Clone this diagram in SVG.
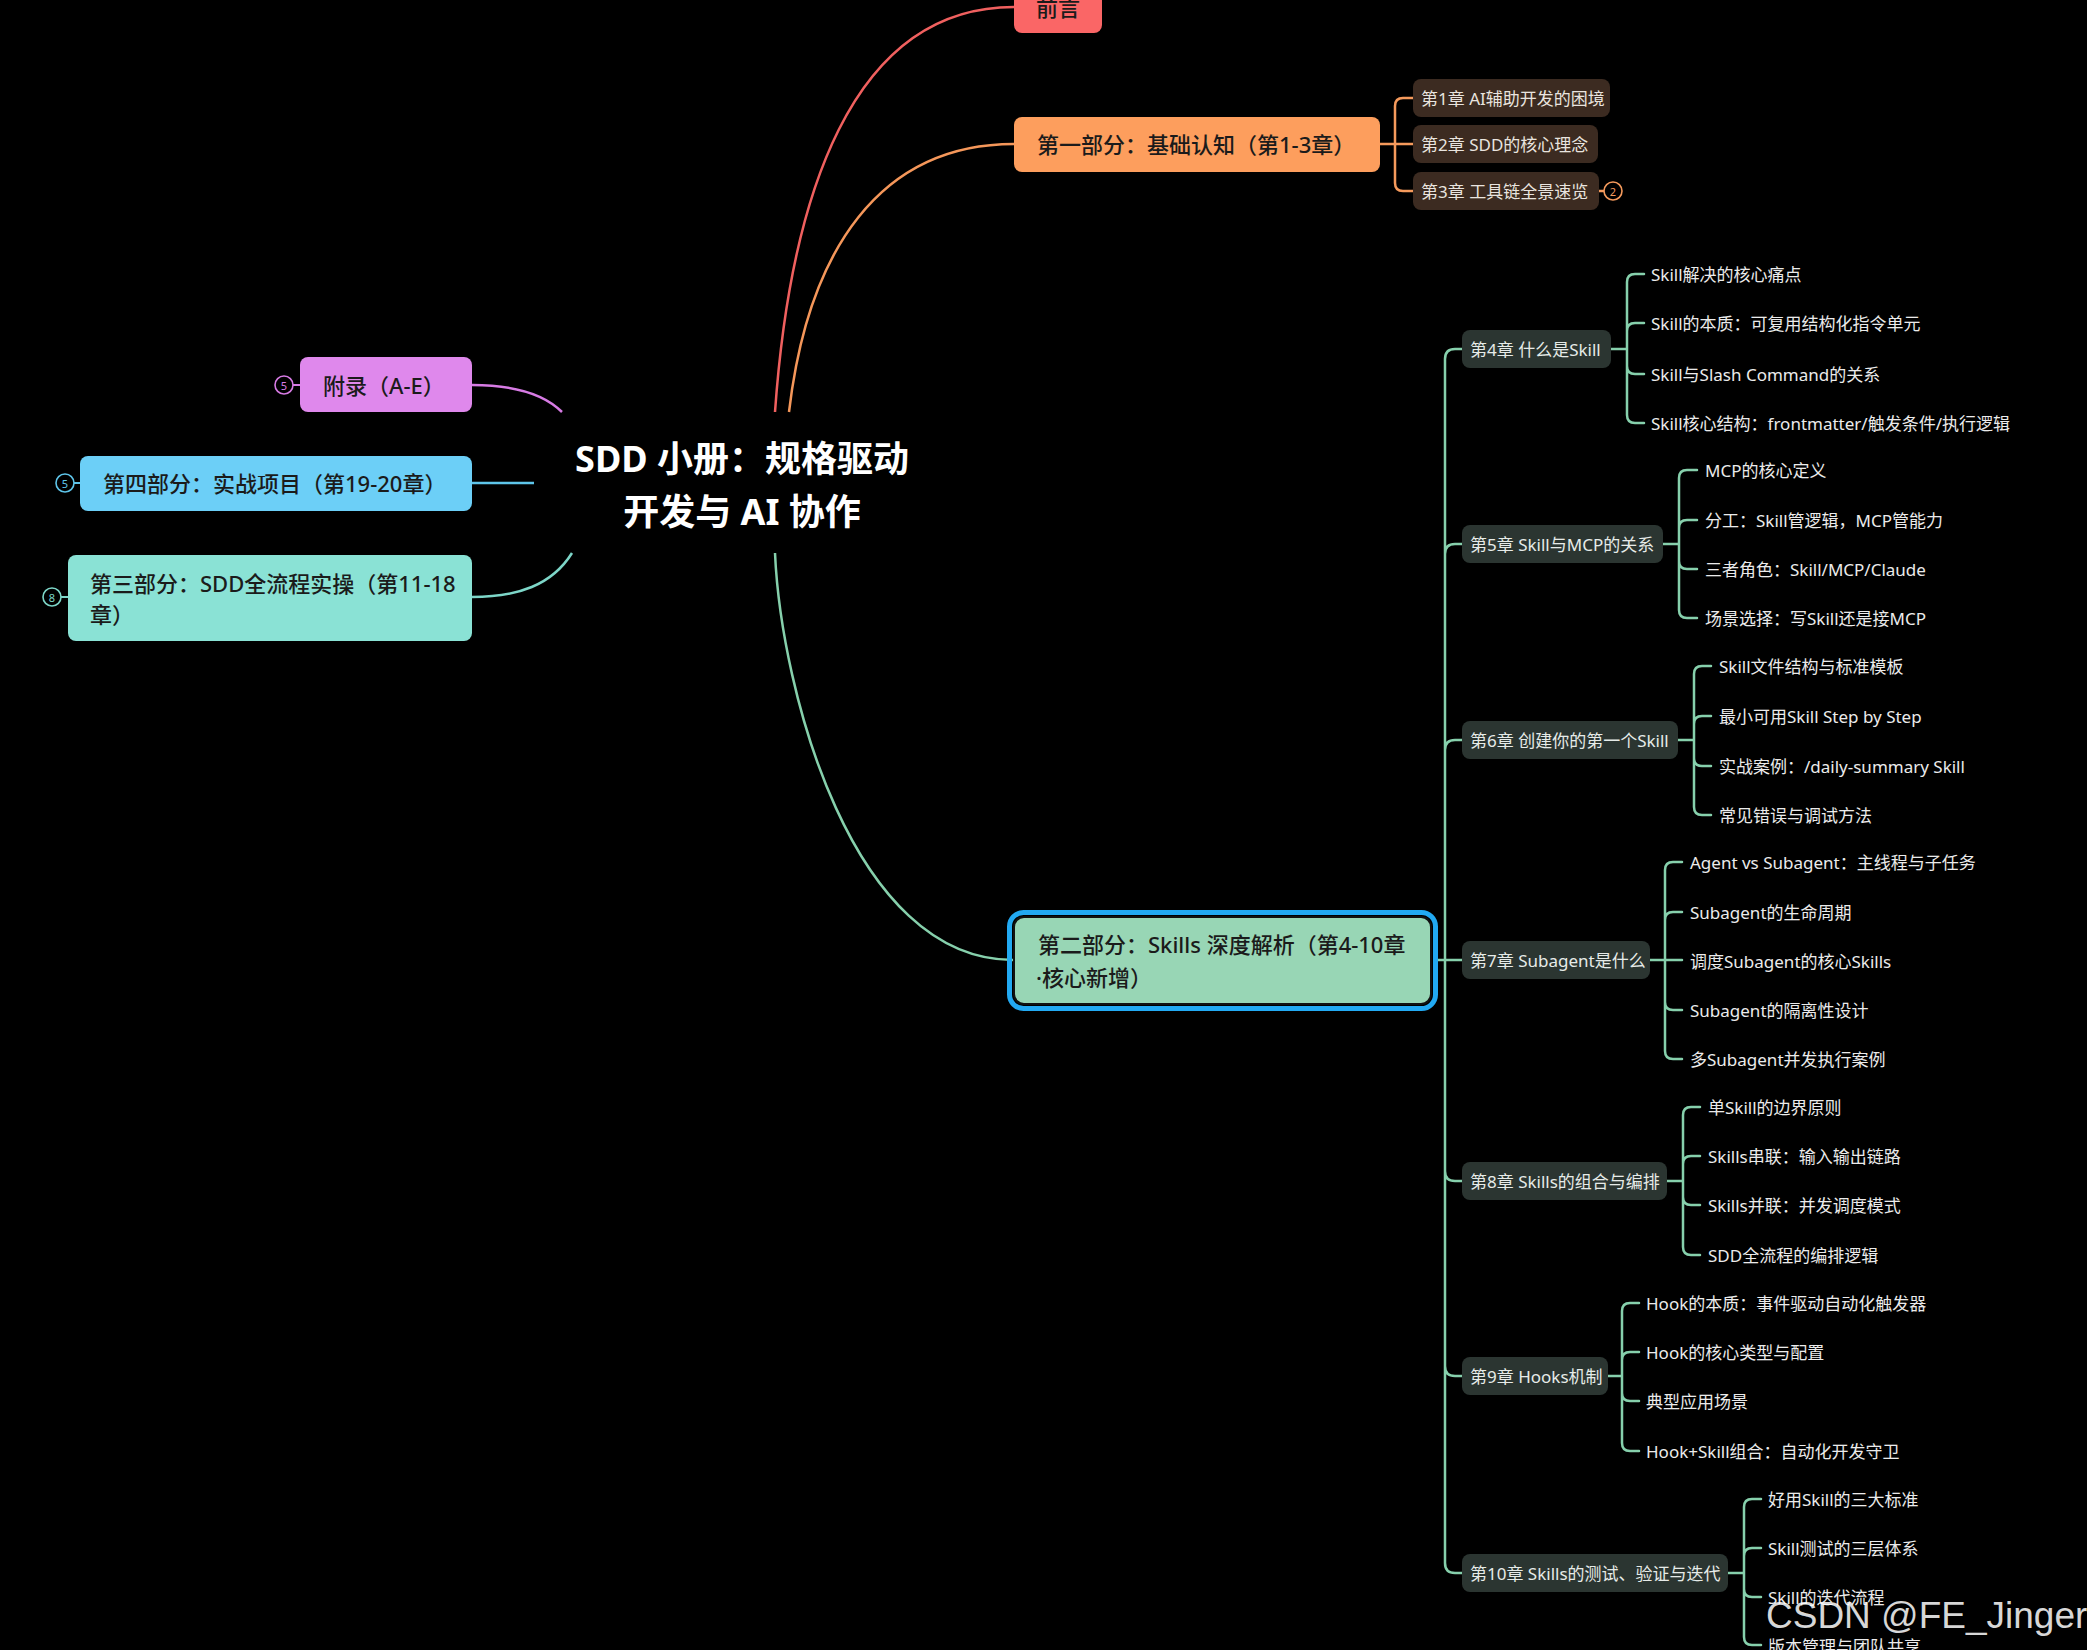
<svg xmlns="http://www.w3.org/2000/svg" width="2087" height="1650" viewBox="0 0 2087 1650">
<style>
text{font-family:"Noto Sans","Noto Sans CJK SC",sans-serif;dominant-baseline:central}
.part{font-size:22px;font-weight:500;fill:#1b1b1b}
.ch{font-size:17px;fill:#e9e4df}
.chg{font-size:17px;fill:#e6ebe8}
.leaf{font-size:17px;fill:#ebebeb}
.chbox{fill:#2b3531}
.chbox1{fill:#3c2b21}
.g{fill:none;stroke:#86d0ac;stroke-width:2.5;stroke-linecap:round}
.o{fill:none;stroke:#f59a5c;stroke-width:2.5;stroke-linecap:round}
.badge{fill:#000;stroke-width:1.6}
.bt{font-size:11px;text-anchor:middle}
</style>
<rect width="2087" height="1650" fill="#000"/>

<g id="connectors">
  <path d="M775,412 C790,200 850,7 1014,7" fill="none" stroke="#f0605f" stroke-width="2.5"/>
  <path d="M789,412 C808,250 880,144 1014,144" fill="none" stroke="#f5975a" stroke-width="2.5"/>
  <path d="M775,553 C781,690 852,960 1013,960" fill="none" stroke="#86d0ac" stroke-width="2.5"/>
  <path d="M472,385 C515,385 545,395 562,412" fill="none" stroke="#d77be4" stroke-width="2.5"/>
  <path d="M472,483 H534" fill="none" stroke="#5ec5ea" stroke-width="2.5"/>
  <path d="M472,597 C518,597 552,585 572,553" fill="none" stroke="#7dd6c8" stroke-width="2.5"/>
  <path d="M276,385 H300" stroke="#d77be4" stroke-width="2"/>
  <path d="M74,483 H80" stroke="#5ec5ea" stroke-width="2"/>
  <path d="M61,597 H68" stroke="#7dd6c8" stroke-width="2"/>
  <path class="o" d="M1380,144 H1413 M1413,98 H1403 Q1395,98 1395,106 V183 Q1395,191 1403,191 H1413 M1598,191 H1604"/>
  <path class="g" d="M1462,349 H1455 Q1445,349 1445,359 V1563 Q1445,1573 1455,1573 H1462 M1445,554 Q1445,544 1455,544 H1462 M1445,750 Q1445,740 1455,740 H1462 M1437,960 H1462 M1445,1171 Q1445,1181 1455,1181 H1462 M1445,1366 Q1445,1376 1455,1376 H1462"/>
  <path class="g" d="M1611,349 H1627 M1627,282 V415 M1627,282 Q1627,274 1635,274 H1644 M1627,331 Q1627,323 1635,323 H1644 M1627,366 Q1627,374 1635,374 H1644 M1627,415 Q1627,423 1635,423 H1644"/>
  <path class="g" d="M1663,544 H1679 M1679,478 V610 M1679,478 Q1679,470 1687,470 H1697 M1679,528 Q1679,520 1687,520 H1697 M1679,561 Q1679,569 1687,569 H1697 M1679,610 Q1679,618 1687,618 H1697"/>
  <path class="g" d="M1678,740 H1694 M1694,674 V807 M1694,674 Q1694,666 1702,666 H1711 M1694,724 Q1694,716 1702,716 H1711 M1694,758 Q1694,766 1702,766 H1711 M1694,807 Q1694,815 1702,815 H1711"/>
  <path class="g" d="M1650,960 H1682 M1665,870 V1051 M1665,870 Q1665,862 1673,862 H1682 M1665,920 Q1665,912 1673,912 H1682 M1665,1002 Q1665,1010 1673,1010 H1682 M1665,1051 Q1665,1059 1673,1059 H1682"/>
  <path class="g" d="M1667,1181 H1683 M1683,1115 V1247 M1683,1115 Q1683,1107 1691,1107 H1700 M1683,1164 Q1683,1156 1691,1156 H1700 M1683,1197 Q1683,1205 1691,1205 H1700 M1683,1247 Q1683,1255 1691,1255 H1700"/>
  <path class="g" d="M1608,1376 H1622 M1622,1311 V1443 M1622,1311 Q1622,1303 1630,1303 H1639 M1622,1360 Q1622,1352 1630,1352 H1639 M1622,1393 Q1622,1401 1630,1401 H1639 M1622,1443 Q1622,1451 1630,1451 H1639"/>
  <path class="g" d="M1728,1573 H1744 M1744,1507 V1637 M1744,1507 Q1744,1499 1752,1499 H1761 M1744,1556 Q1744,1548 1752,1548 H1761 M1744,1589 Q1744,1597 1752,1597 H1761 M1744,1637 Q1744,1645 1752,1645 H1761"/>
</g>

<g id="root">
  <text x="742" y="458" text-anchor="middle" font-size="36" font-weight="700" fill="#fff">SDD 小册：规格驱动</text>
  <text x="742" y="511" text-anchor="middle" font-size="36" font-weight="700" fill="#fff">开发与 AI 协作</text>
</g>

<g id="preface">
  <rect x="1014" y="-22" width="88" height="55" rx="8" fill="#fa6666"/>
  <text class="part" x="1058" y="7" text-anchor="middle" font-weight="700">前言</text>
</g>

<g id="part1">
  <rect x="1014" y="117" width="366" height="55" rx="8" fill="#fd9e5d"/>
  <text class="part" x="1037" y="144">第一部分：基础认知（第1-3章）</text>
</g>
<g id="ch1">
  <rect class="chbox1" x="1413" y="79" width="197" height="38" rx="8"/>
  <text class="ch" x="1421" y="98">第1章 AI辅助开发的困境</text>
</g>
<g id="ch2">
  <rect class="chbox1" x="1413" y="125" width="185" height="38" rx="8"/>
  <text class="ch" x="1421" y="144">第2章 SDD的核心理念</text>
</g>
<g id="ch3">
  <rect class="chbox1" x="1413" y="172" width="186" height="38" rx="8"/>
  <text class="ch" x="1421" y="191">第3章 工具链全景速览</text>
  <circle class="badge" cx="1613" cy="191" r="9" stroke="#f59a5c"/>
  <text class="bt" x="1613" y="191" fill="#f59a5c">2</text>
</g>

<g id="appendix">
  <rect x="300" y="357" width="172" height="55" rx="8" fill="#df88ec"/>
  <text class="part" x="323" y="385">附录（A-E）</text>
  <circle class="badge" cx="284" cy="385" r="9" stroke="#d77be4"/>
  <text class="bt" x="284" y="385" fill="#d77be4">5</text>
</g>
<g id="part4">
  <rect x="80" y="456" width="392" height="55" rx="8" fill="#6ccff7"/>
  <text class="part" x="103" y="483">第四部分：实战项目（第19-20章）</text>
  <circle class="badge" cx="65" cy="483" r="9" stroke="#5ec5ea"/>
  <text class="bt" x="65" y="483" fill="#5ec5ea">5</text>
</g>
<g id="part3">
  <rect x="68" y="555" width="404" height="86" rx="8" fill="#8ae2d5"/>
  <text class="part" x="90" y="583">第三部分：SDD全流程实操（第11-18</text>
  <text class="part" x="90" y="614">章）</text>
  <circle class="badge" cx="52" cy="597" r="9" stroke="#7dd6c8"/>
  <text class="bt" x="52" y="597" fill="#7dd6c8">8</text>
</g>

<g id="part2">
  <rect x="1009.5" y="912.5" width="426" height="96" rx="14" fill="none" stroke="#22a9f2" stroke-width="5"/>
  <rect x="1014" y="917" width="417" height="87" rx="10" fill="#98d6b5" stroke="#111" stroke-width="2"/>
  <text class="part" x="1038" y="944">第二部分：Skills 深度解析（第4-10章</text>
  <text class="part" x="1036" y="977">·核心新增）</text>
</g>

<g id="ch4">
  <rect class="chbox" x="1462" y="330" width="149" height="38" rx="8"/>
  <text class="chg" x="1470" y="349">第4章 什么是Skill</text>
  <text class="leaf" x="1651" y="274">Skill解决的核心痛点</text>
  <text class="leaf" x="1651" y="323">Skill的本质：可复用结构化指令单元</text>
  <text class="leaf" x="1651" y="374">Skill与Slash Command的关系</text>
  <text class="leaf" x="1651" y="423">Skill核心结构：frontmatter/触发条件/执行逻辑</text>
</g>
<g id="ch5">
  <rect class="chbox" x="1462" y="525" width="201" height="38" rx="8"/>
  <text class="chg" x="1470" y="544">第5章 Skill与MCP的关系</text>
  <text class="leaf" x="1705" y="470">MCP的核心定义</text>
  <text class="leaf" x="1705" y="520">分工：Skill管逻辑，MCP管能力</text>
  <text class="leaf" x="1705" y="569">三者角色：Skill/MCP/Claude</text>
  <text class="leaf" x="1705" y="618">场景选择：写Skill还是接MCP</text>
</g>
<g id="ch6">
  <rect class="chbox" x="1462" y="721" width="216" height="38" rx="8"/>
  <text class="chg" x="1470" y="740">第6章 创建你的第一个Skill</text>
  <text class="leaf" x="1719" y="666">Skill文件结构与标准模板</text>
  <text class="leaf" x="1719" y="716">最小可用Skill Step by Step</text>
  <text class="leaf" x="1719" y="766">实战案例：/daily-summary Skill</text>
  <text class="leaf" x="1719" y="815">常见错误与调试方法</text>
</g>
<g id="ch7">
  <rect class="chbox" x="1462" y="941" width="188" height="38" rx="8"/>
  <text class="chg" x="1470" y="960">第7章 Subagent是什么</text>
  <text class="leaf" x="1690" y="862">Agent vs Subagent：主线程与子任务</text>
  <text class="leaf" x="1690" y="912">Subagent的生命周期</text>
  <text class="leaf" x="1690" y="961">调度Subagent的核心Skills</text>
  <text class="leaf" x="1690" y="1010">Subagent的隔离性设计</text>
  <text class="leaf" x="1690" y="1059">多Subagent并发执行案例</text>
</g>
<g id="ch8">
  <rect class="chbox" x="1462" y="1162" width="205" height="38" rx="8"/>
  <text class="chg" x="1470" y="1181">第8章 Skills的组合与编排</text>
  <text class="leaf" x="1708" y="1107">单Skill的边界原则</text>
  <text class="leaf" x="1708" y="1156">Skills串联：输入输出链路</text>
  <text class="leaf" x="1708" y="1205">Skills并联：并发调度模式</text>
  <text class="leaf" x="1708" y="1255">SDD全流程的编排逻辑</text>
</g>
<g id="ch9">
  <rect class="chbox" x="1462" y="1357" width="146" height="38" rx="8"/>
  <text class="chg" x="1470" y="1376">第9章 Hooks机制</text>
  <text class="leaf" x="1646" y="1303">Hook的本质：事件驱动自动化触发器</text>
  <text class="leaf" x="1646" y="1352">Hook的核心类型与配置</text>
  <text class="leaf" x="1646" y="1401">典型应用场景</text>
  <text class="leaf" x="1646" y="1451">Hook+Skill组合：自动化开发守卫</text>
</g>
<g id="ch10">
  <rect class="chbox" x="1462" y="1554" width="266" height="38" rx="8"/>
  <text class="chg" x="1470" y="1573">第10章 Skills的测试、验证与迭代</text>
  <text class="leaf" x="1768" y="1499">好用Skill的三大标准</text>
  <text class="leaf" x="1768" y="1548">Skill测试的三层体系</text>
  <text class="leaf" x="1768" y="1597">Skill的迭代流程</text>
  <text class="leaf" x="1768" y="1646">版本管理与团队共享</text>
</g>

<text x="1766" y="1615" font-size="37" fill="#ffffff" fill-opacity="0.85" style="font-family:'Liberation Sans',sans-serif">CSDN @FE_Jinger</text>
</svg>
